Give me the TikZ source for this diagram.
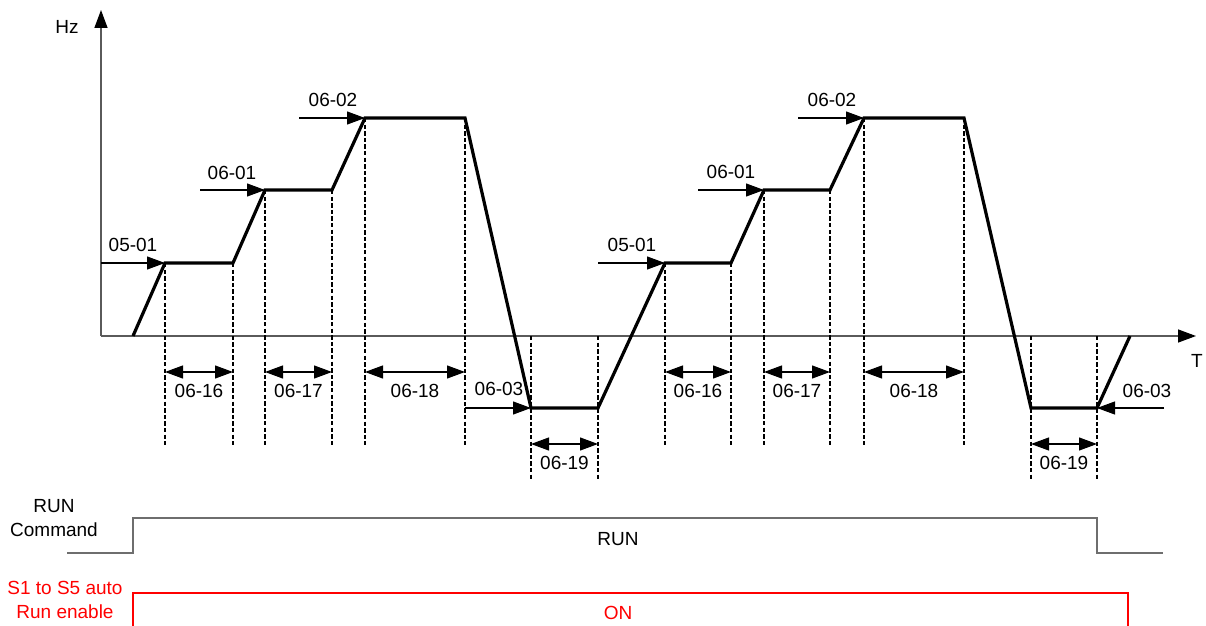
\documentclass[tikz,border=0pt]{standalone}
\usepackage{fontspec}
\setmainfont{Liberation Sans}
\usetikzlibrary{arrows.meta}
\definecolor{axisgray}{HTML}{5A5A5A}
\definecolor{rungray}{HTML}{6E6E6E}
\definecolor{enablered}{HTML}{FF0000}

\begin{document}
\begin{tikzpicture}[
  x=0.5pt, y=-0.5pt,
  font=\fontsize{9.5}{12}\selectfont,
  head/.tip={Triangle[length=9pt, width=6.5pt, color=black, fill=black]},
  axis/.style={draw=axisgray, line width=0.7pt, -head},
  wave/.style={line width=1.6pt, line join=miter},
  guide/.style={line width=0.6pt, dash pattern=on 2.2pt off 1.1pt},
  level/.style={line width=0.55pt, -head},
  span/.style={line width=0.55pt, head-head},
  tag/.style={inner sep=1pt, align=center},
  signal/.style={draw=rungray, line width=0.75pt}
]
  \useasboundingbox (0,0) rectangle (1206,626);

  % axes
  \coordinate (o) at (101,336);
  \coordinate (ytip) at (101,10);
  \coordinate (xtip) at (1196,336);
  \draw[axis] (o) -- (ytip);
  \draw[axis] (o) -- (xtip);
  \node[tag] (hz) at (67,27) {Hz};
  \node[tag] (t) at (1197,361) {T};

  % frequency profile
  \foreach \px/\py [count=\i from 0] in {133/336, 165/263, 233/263, 265/190, 332/190,
      365/118, 465/118, 531/408, 598/408, 665/263, 731/263, 764/190, 830/190,
      864/118, 964/118, 1031/408, 1097/408, 1130/336}
    \coordinate (w\i) at (\px,\py);
  \draw[wave] (w0) \foreach \i in {1,...,17}{ -- (w\i)};

  % guide lines
  \coordinate (gtop) at (0,445);
  \coordinate (gbot) at (0,480);
  \foreach \i in {1,2,3,4,5,6,9,10,11,12,13,14}
    \draw[guide] (w\i) -- (w\i |- gtop);
  \foreach \i in {7,8,15,16}
    \draw[guide] (w\i |- o) -- (w\i |- gbot);

  % time spans
  \coordinate (sp) at (0,372);
  \coordinate (sl) at (0,444);
  \foreach \a/\b/\txt in {1/2/06-16, 3/4/06-17, 5/6/06-18, 9/10/06-16, 11/12/06-17, 13/14/06-18}
    \draw[span] (w\a |- sp) -- (w\b |- sp) node[tag, midway, below=5pt] {\txt};
  \foreach \a/\b in {7/8, 15/16}
    \draw[span] (w\a |- sl) -- (w\b |- sl) node[tag, midway, below=5pt] {06-19};

  % speed levels
  \draw[level] (o |- w1) -- (w1);
  \draw[level] ([xshift=-32.5pt]w3) -- (w3);
  \draw[level] ([xshift=-33pt]w5) -- (w5);
  \draw[level] (w6 |- w7) -- (w7);
  \draw[level] (w8 |- w9) -- (w9);
  \draw[level] ([xshift=-33pt]w11) -- (w11);
  \draw[level] ([xshift=-33pt]w13) -- (w13);
  \draw[level] ([xshift=33.5pt]w16) -- (w16);
  \node[tag] (l1) at (133,245) {05-01};
  \node[tag] (l2) at (232,173) {06-01};
  \node[tag] (l3) at (333,100) {06-02};
  \node[tag] (l4) at (499,389) {06-03};
  \node[tag] (l5) at (632,245) {05-01};
  \node[tag] (l6) at (731,172) {06-01};
  \node[tag] (l7) at (832,100) {06-02};
  \node[tag] (l8) at (1147,391) {06-03};

  % run command
  \coordinate (r0) at (67,553);
  \coordinate (r1) at (133,553);
  \coordinate (r2) at (133,518);
  \coordinate (r3) at (1097,518);
  \coordinate (r4) at (1097,553);
  \coordinate (r5) at (1163,553);
  \draw[signal] (r0) -- (r1) -- (r2) -- (r3) -- (r4) -- (r5);
  \node[tag] (runlbl) at (54,518) {RUN\\Command};
  \node[tag] (run) at (618,539) {RUN};

  % auto run enable
  \coordinate (e0) at (133,626);
  \coordinate (e1) at (133,593);
  \coordinate (e2) at (1128,593);
  \coordinate (e3) at (1128,626);
  \draw[enablered, line width=0.6pt] (e0) -- (e1) -- (e2) -- (e3);
  \node[tag, text=enablered] (enlbl) at (65,600) {S1 to S5 auto\\Run enable};
  \node[tag, text=enablered] (on) at (618,613) {ON};
\end{tikzpicture}
\end{document}
